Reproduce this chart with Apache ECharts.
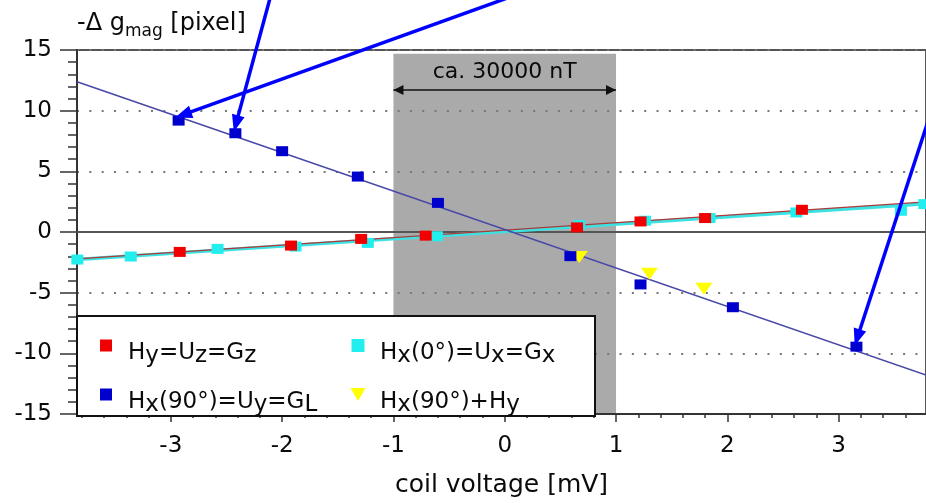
<!DOCTYPE html>
<html><head><meta charset="utf-8">
<script src="https://cdn.jsdelivr.net/npm/echarts@6/dist/echarts.min.js"></script>
<style>html,body{margin:0;padding:0;background:#fff}#c{width:926px;height:503px}</style>
</head><body><div id="c"></div>
<script>
// ---- axes ----
const xMin = -3.843, xMax = 3.785;
const yMin = -15, yMax = 15, yStep = 5;
const xMajorTicks = [-3, -2, -1, 0, 1, 2, 3];
const xMinorTicks = [];
for (let k = -19; k <= 18; k++) xMinorTicks.push(+(k * 0.2).toFixed(1));

// ---- measured points ----
const redX = [-2.92, -1.92, -1.29, -0.71, 0.65, 1.22, 1.80, 2.67];
const redY = [-1.64, -1.12, -0.57, -0.30, 0.38, 0.87, 1.15, 1.83];

const cyanX = [-3.84, -3.36, -2.58, -1.88, -1.23, -0.61, 0.67, 1.26, 1.84, 2.62, 3.56, 3.77];
const cyanY = [-2.27, -2.02, -1.39, -1.20, -0.90, -0.35, 0.57, 0.93, 1.15, 1.61, 1.75, 2.30];

const blueX = [-2.93, -2.42, -2.00, -1.32, -0.60, 0.59, 1.22, 2.05, 3.16];
const blueY = [9.18, 8.14, 6.66, 4.57, 2.40, -1.99, -4.32, -6.20, -9.45];

const yellowX = [0.67, 1.30, 1.79];
const yellowY = [-2.07, -3.44, -4.67];

// ---- fit lines (end points read at the plot edges) ----
const fitX = [-3.843, 3.785];
const redFitY = [-2.21, 2.48];
const cyanFitY = [-2.27, 2.32];
const blueFitY = [12.38, -11.78];

// ---- annotations ----
const bandX = [-1, 1];
const bandYTop = 14.7;
const spanArrowY = 11.7;
const spanLabel = 'ca. 30000 nT';
const arrowFrom = [[-2.09, 19.9], [0.21, 19.9], [3.91, 12.13]];
const arrowTo = [[-2.414, 8.93], [-2.889, 9.67], [3.168, -8.71]];

// ---- legend ----
const nRed = 'Hy=Uz=Gz', nCyan = 'Hx(0°)=Ux=Gx', nBlue = 'Hx(90°)=Uy=GL', nYellow = 'Hx(90°)+Hy';
const legendParts = {};
legendParts[nRed] = [['H', 0], ['y', 1], ['=U', 0], ['z', 1], ['=G', 0], ['z', 1]];
legendParts[nCyan] = [['H', 0], ['x', 1], ['(0°)=U', 0], ['x', 1], ['=G', 0], ['x', 1]];
legendParts[nBlue] = [['H', 0], ['x', 1], ['(90°)=U', 0], ['y', 1], ['=G', 0], ['L', 1]];
legendParts[nYellow] = [['H', 0], ['x', 1], ['(90°)+H', 0], ['y', 1]];

const FONT = 'DejaVu Sans';
const TXT = '#0a0a0a';
const zip = (xs, ys) => xs.map((x, i) => [x, ys[i]]);
const sq = 'path://M0,0H10V10H0Z';
const tri = 'path://M0,0H15L7.5,13Z';

function legendFmt(spacer) {
  return function (name) {
    return '{' + spacer + '| }' + legendParts[name].map(p => '{' + (p[1] ? 's' : 'n') + '|' + p[0] + '}').join('');
  };
}
const legendRich = {
  n: { fontFamily: FONT, fontSize: 23, color: TXT, lineHeight: 22, padding: [16, 0, 0, 0] },
  s: { fontFamily: FONT, fontSize: 23, color: TXT, lineHeight: 16, padding: [22, 0, 0, 0] },
  spA: { width: 11, lineHeight: 22, padding: [16, 0, 0, 0], fontSize: 21 },
  spB: { width: 9.5, lineHeight: 22, padding: [16, 0, 0, 0], fontSize: 21 }
};

const chart = echarts.init(document.getElementById('c'), null, { renderer: 'canvas' });
const axisColor = '#333';
const baseX = { type: 'value', min: xMin, max: xMax, gridIndex: 0, z: 2, splitLine: { show: false } };
const tipOffset = [[0, '50%'], [0, '50%']];

chart.setOption({
  animation: false,
  textStyle: { fontFamily: FONT },
  grid: { left: 77, right: 0, top: 50, bottom: 87, show: true, borderColor: '#555', borderWidth: 2, backgroundColor: 'transparent' },
  xAxis: [
    Object.assign({}, baseX, {
      position: 'bottom',
      axisLine: { onZero: false, lineStyle: { color: axisColor, width: 2 } },
      axisTick: { customValues: xMajorTicks, length: 8, lineStyle: { color: axisColor, width: 1.5 } },
      axisLabel: { customValues: xMajorTicks, margin: 21, fontSize: 23, color: TXT, fontFamily: FONT },
      name: 'coil voltage [mV]', nameLocation: 'middle', nameGap: 59,
      nameTextStyle: { fontSize: 25, color: TXT, fontFamily: FONT }
    }),
    Object.assign({}, baseX, {
      position: 'bottom',
      axisLine: { show: false, onZero: false },
      axisTick: { customValues: xMinorTicks, length: 4, lineStyle: { color: axisColor, width: 1.5 } },
      axisLabel: { show: false }
    }),
    Object.assign({}, baseX, {
      position: 'bottom',
      axisLine: { show: true, onZero: true, lineStyle: { color: '#555', width: 2 } },
      axisTick: { show: false },
      axisLabel: { show: false }
    })
  ],
  yAxis: {
    type: 'value', min: yMin, max: yMax, interval: yStep, z: 2,
    axisLine: { show: true, onZero: false, lineStyle: { color: axisColor, width: 2 } },
    axisTick: { show: true, length: 17, lineStyle: { color: axisColor, width: 1.5 } },
    minorTick: { show: true, splitNumber: 5, length: 9, lineStyle: { color: axisColor, width: 1.5 } },
    axisLabel: { margin: 25, fontSize: 23, color: TXT, fontFamily: FONT },
    splitLine: { show: true, lineStyle: { type: [2, 10.33], color: '#777', width: 2 } },
    name: '{n|-Δ g}{s|mag}{n| [pixel]}', nameLocation: 'end', nameGap: 12,
    nameTextStyle: {
      align: 'left', verticalAlign: 'bottom',
      rich: {
        n: { fontFamily: FONT, fontSize: 24, color: TXT, lineHeight: 28 },
        s: { fontFamily: FONT, fontSize: 17, color: TXT, lineHeight: 12, padding: [16, 0, 0, 0] }
      }
    }
  },
  legend: [
    {
      data: [{ name: nRed, icon: sq }, { name: nBlue, icon: sq }],
      orient: 'vertical', left: 100, top: 323, itemWidth: 12, itemHeight: 12, itemGap: 4, padding: 0,
      selectedMode: false, z: 20, formatter: legendFmt('spA'),
      textStyle: { fontFamily: FONT, fontSize: 23, color: TXT, rich: legendRich }
    },
    {
      data: [{ name: nCyan, icon: sq }, { name: nYellow, icon: tri }],
      orient: 'vertical', left: 350.5, top: 323, itemWidth: 15, itemHeight: 13, itemGap: 4, padding: 0,
      selectedMode: false, z: 20, formatter: legendFmt('spB'),
      textStyle: { fontFamily: FONT, fontSize: 23, color: TXT, rich: legendRich }
    }
  ],
  graphic: [{
    type: 'rect', z: 15, silent: true,
    shape: { x: 77, y: 316, width: 518, height: 100 },
    style: { fill: '#fff', stroke: '#111', lineWidth: 2 }
  }],
  series: [
    {
      name: 'band', type: 'line', data: [], silent: true,
      markArea: {
        silent: true, itemStyle: { color: '#aaaaaa' },
        data: [[{ coord: [bandX[0], bandYTop] }, { coord: [bandX[1], yMin] }]]
      },
      markLine: {
        silent: true, symbol: ['triangle', 'triangle'], symbolSize: 10, symbolOffset: tipOffset,
        lineStyle: { color: '#111', width: 1.5, type: 'solid' },
        label: { show: true, formatter: spanLabel, position: 'insideMiddleTop', distance: 7, fontSize: 22, color: TXT, fontFamily: FONT },
        data: [[{ coord: [bandX[0], spanArrowY] }, { coord: [bandX[1], spanArrowY] }]]
      }
    },
    { name: 'cyanFit', type: 'line', z: 3, silent: true, showSymbol: false, data: zip(fitX, cyanFitY),
      lineStyle: { color: '#3ce2e2', width: 3.5 } },
    { name: nCyan, type: 'scatter', z: 3, silent: true, clip: false, symbol: 'rect', symbolSize: [12, 10],
      itemStyle: { color: '#22eeee', opacity: 1 }, data: zip(cyanX, cyanY) },
    { name: 'redFit', type: 'line', z: 3, silent: true, showSymbol: false, data: zip(fitX, redFitY),
      lineStyle: { color: '#b03838', width: 1.2 } },
    { name: nRed, type: 'scatter', z: 3, silent: true, clip: false, symbol: 'rect', symbolSize: [12, 10],
      itemStyle: { color: '#f00000', opacity: 1 }, data: zip(redX, redY) },
    { name: 'blueFit', type: 'line', z: 3, silent: true, showSymbol: false, data: zip(fitX, blueFitY),
      lineStyle: { color: '#4848a8', width: 1.5 } },
    { name: nYellow, type: 'scatter', z: 3, silent: true, clip: false, symbol: 'triangle', symbolRotate: 180, symbolSize: [17, 12],
      itemStyle: { color: '#ffff00', opacity: 1 }, data: zip(yellowX, yellowY) },
    { name: nBlue, type: 'scatter', z: 3, silent: true, clip: false, symbol: 'rect', symbolSize: [12, 10],
      itemStyle: { color: '#0000cc', opacity: 1 }, data: zip(blueX, blueY) },
    {
      name: 'arrows', type: 'lines', coordinateSystem: 'cartesian2d', z: 6, silent: true, clip: false,
      symbol: ['none', 'triangle'], symbolSize: [[13, 17], [13, 17]], symbolOffset: tipOffset,
      lineStyle: { color: '#0000ff', width: 3.5, opacity: 1 },
      data: arrowFrom.map((f, i) => ({ coords: [f, arrowTo[i]] }))
    }
  ]
});
</script></body></html>
